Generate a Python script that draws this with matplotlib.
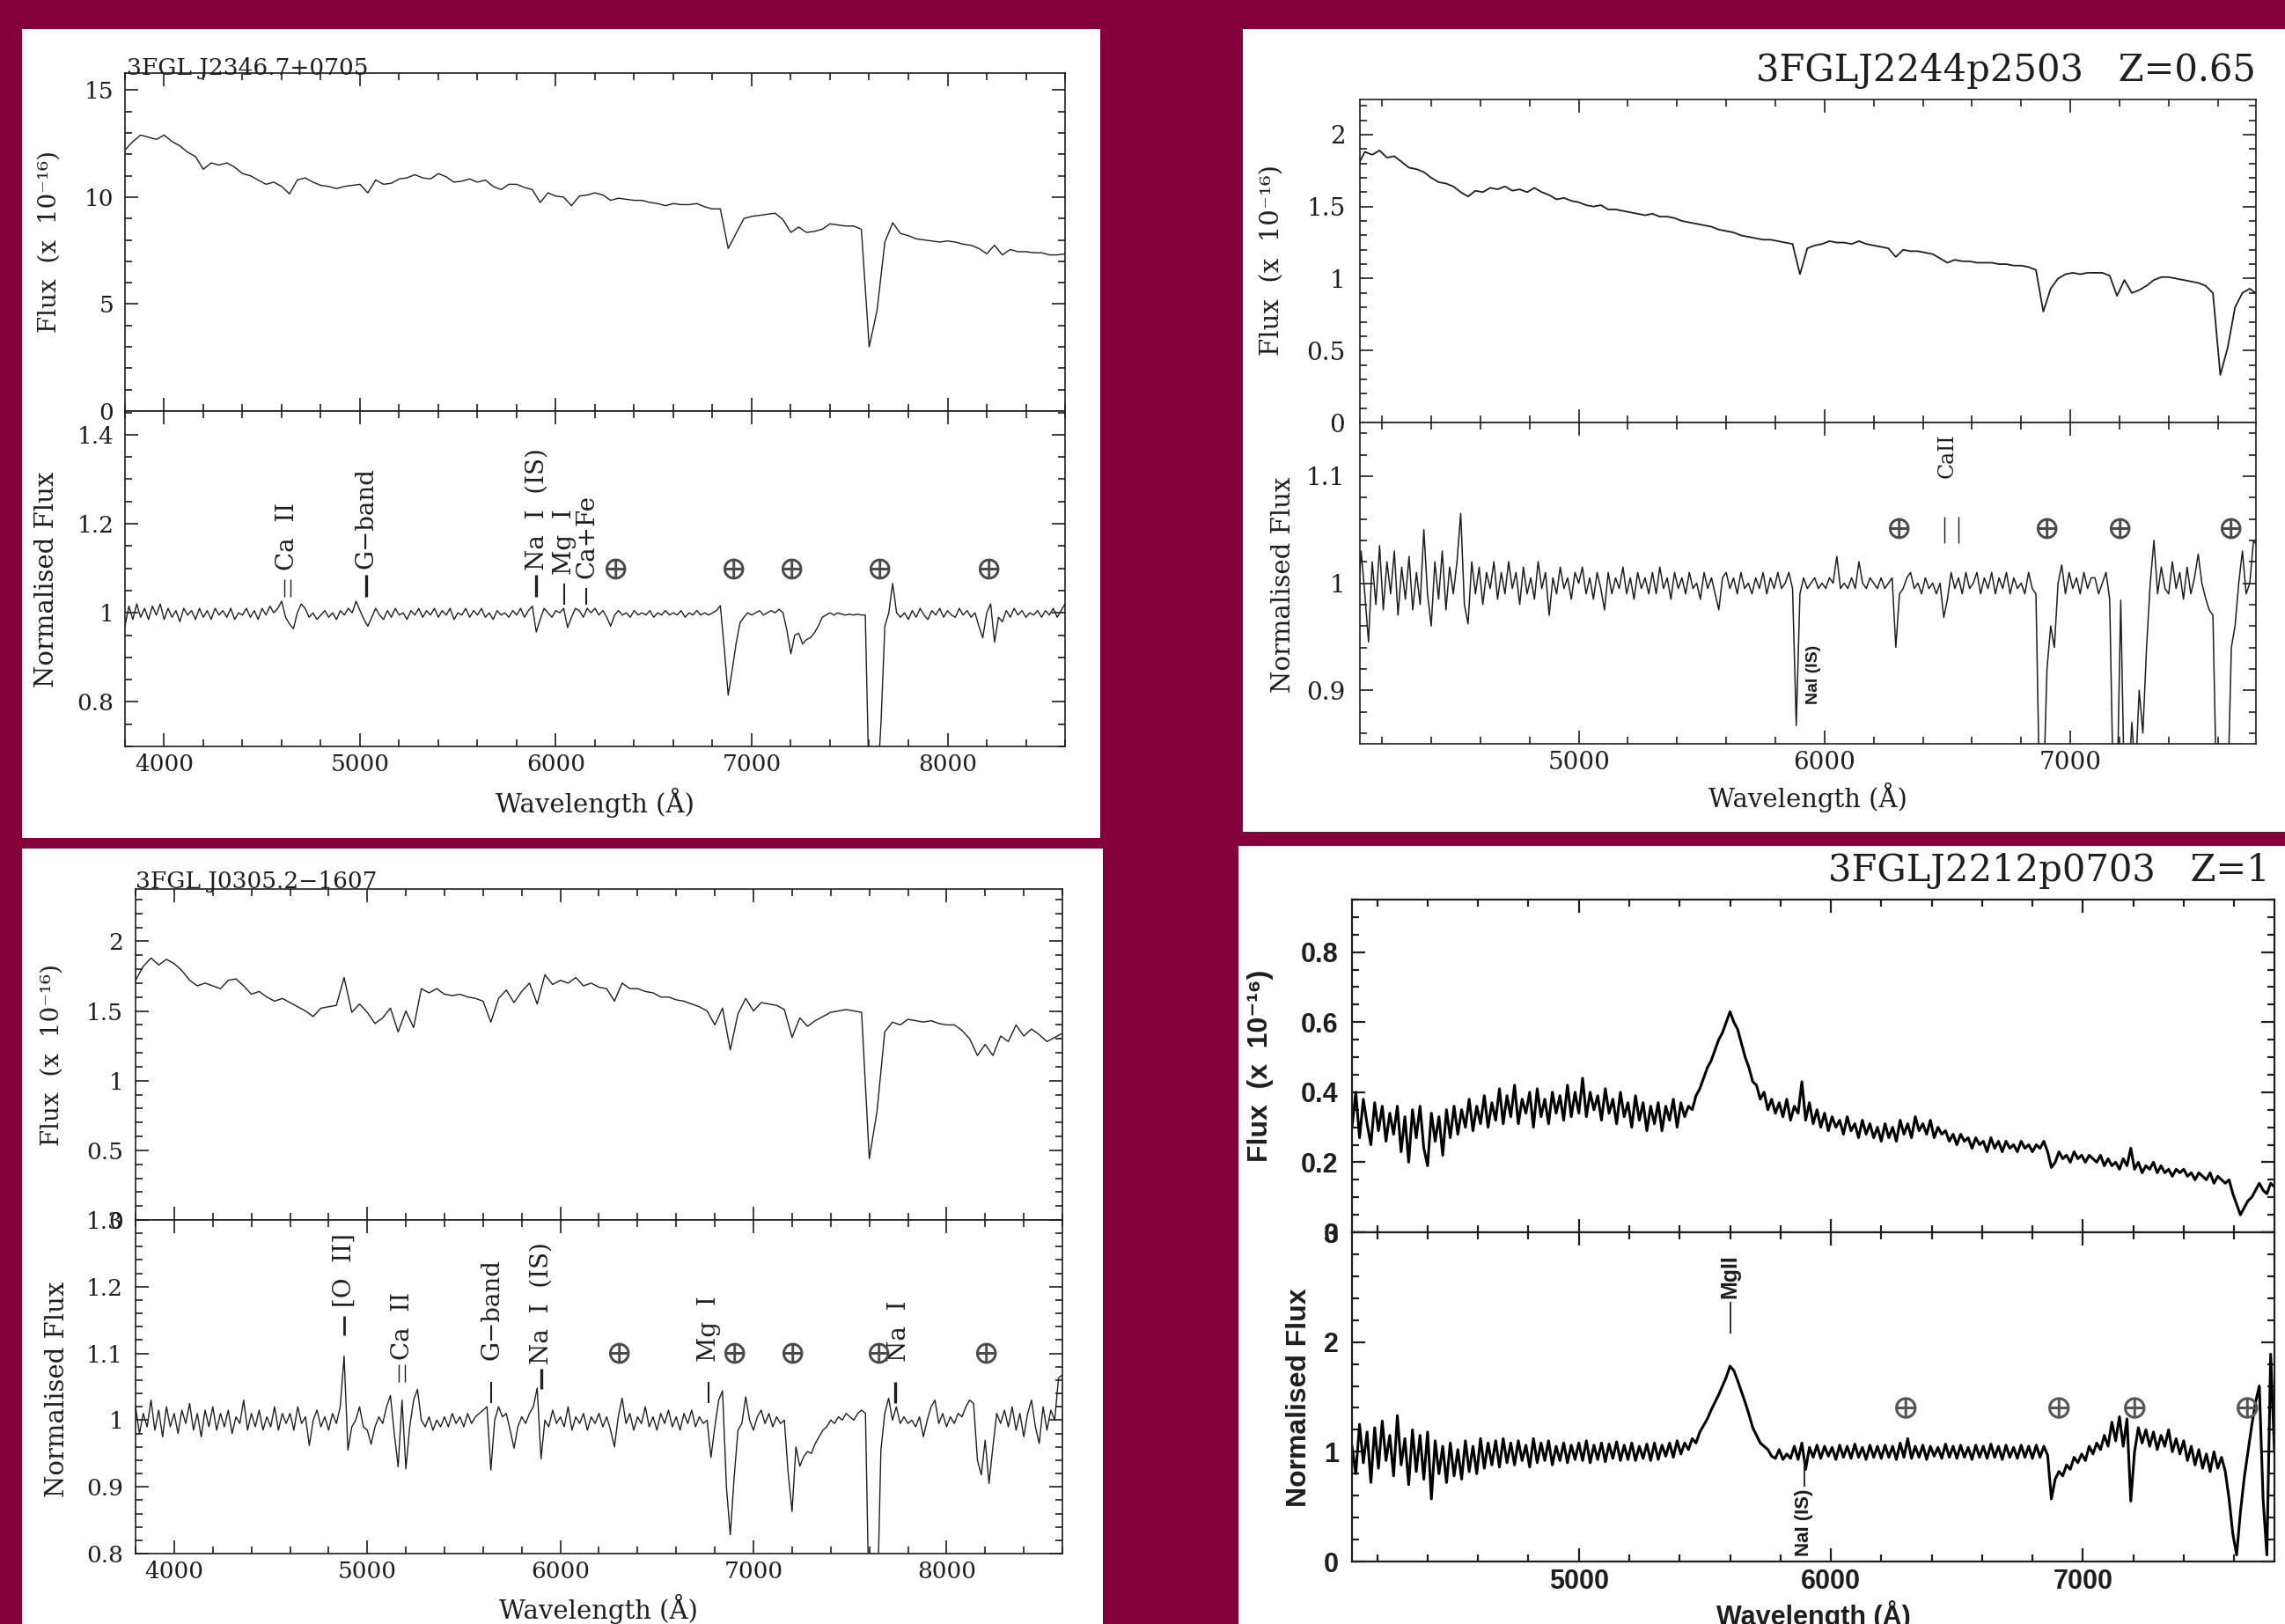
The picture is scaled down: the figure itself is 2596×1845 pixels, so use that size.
import numpy as np
import matplotlib
matplotlib.use("Agg")
import matplotlib.pyplot as plt
from matplotlib.ticker import MultipleLocator
from matplotlib.patches import Rectangle

# wavelength grids (Angstrom) the spectra were read on
wave_blue = np.arange(3800, 8601, 40)       # J2346 / J0305 flux
wave_blue_fine = np.arange(3800, 8601, 20)  # J2346 / J0305 normalised
wave_red = np.arange(4100, 7761, 30)        # J2244p2503 flux
wave_fine = np.arange(4100, 7761, 15)       # noisy red spectra

# 3FGL J2346.7+0705 : flux (x 1e-16) and normalised flux
j2346_flux = [
    12.2, 12.6, 12.9, 12.8, 12.7, 12.9, 12.6, 12.4, 12.1, 11.9,
    11.3, 11.6, 11.5, 11.6, 11.4, 11.1, 11.0, 10.8, 10.6, 10.7,
    10.5, 10.15, 10.8, 10.9, 10.7, 10.55, 10.5, 10.4, 10.5, 10.55,
    10.6, 10.2, 10.8, 10.6, 10.65, 10.85, 10.9, 11.05, 10.9, 10.85,
    11.1, 10.95, 10.7, 10.75, 10.85, 10.7, 10.8, 10.5, 10.35, 10.6,
    10.6, 10.45, 10.35, 9.75, 10.2, 10.05, 10.0, 9.6, 10.05, 10.1,
    10.2, 10.1, 9.85, 9.95, 9.9, 9.85, 9.85, 9.75, 9.7, 9.6,
    9.7, 9.65, 9.65, 9.7, 9.55, 9.45, 9.45, 7.6, 8.3, 9.0,
    9.1, 9.15, 9.2, 9.25, 8.95, 8.35, 8.6, 8.35, 8.4, 8.5,
    8.75, 8.7, 8.65, 8.65, 8.5, 3.0, 4.7, 7.9, 8.8, 8.3,
    8.2, 8.05, 8.0, 7.95, 7.9, 7.95, 7.9, 7.8, 7.75, 7.6,
    7.35, 7.75, 7.3, 7.55, 7.45, 7.45, 7.4, 7.4, 7.3, 7.3,
    7.35]
j2346_norm = [
    0.97, 1.015, 0.985, 1.02, 0.99, 1.01, 0.985, 1.015, 0.995, 1.02,
    0.985, 1.01, 0.99, 1.005, 0.98, 1.01, 0.995, 1.005, 0.985, 1.01,
    0.99, 1.005, 0.985, 1.01, 0.995, 1.005, 0.99, 1.01, 0.985, 1.0,
    0.995, 1.01, 0.99, 1.005, 0.985, 1.01, 0.995, 1.015, 1.0, 1.01,
    1.026, 0.99, 0.975, 0.964, 1.0, 1.02, 1.01, 0.99, 1.0, 0.985,
    0.995, 1.005, 0.99, 1.0, 0.985, 1.005, 0.995, 1.01, 1.0, 1.026,
    1.005, 0.985, 0.97, 0.99, 1.01, 0.995, 0.985, 1.005, 0.99, 1.01,
    0.995, 1.0, 0.985, 1.005, 0.995, 1.01, 0.99, 1.005, 0.995, 1.01,
    0.99, 1.005, 0.995, 1.01, 0.985, 1.0, 0.995, 1.01, 0.99, 1.005,
    0.995, 1.01, 0.99, 1.0, 0.985, 1.005, 0.995, 1.0, 0.99, 1.005,
    0.995, 1.01, 0.99, 1.005, 1.015, 0.957, 0.985, 1.01, 1.0, 0.99,
    1.005, 1.0, 1.01, 0.967, 0.99, 1.01, 1.005, 0.99, 1.01, 1.0,
    1.01, 0.995, 1.005, 0.99, 0.97, 0.995, 1.005, 0.995, 1.0, 0.99,
    1.005, 0.995, 1.0, 0.995, 1.005, 0.99, 1.0, 0.995, 1.005, 0.995,
    1.0, 0.995, 1.005, 0.99, 1.0, 0.995, 1.005, 0.995, 1.0, 0.995,
    1.0, 1.005, 1.016, 0.92, 0.815, 0.87, 0.93, 0.977, 0.99, 1.0,
    0.995, 1.0, 1.005, 0.995, 1.0, 1.005, 1.0, 1.008, 1.0, 0.96,
    0.908, 0.95, 0.954, 0.93, 0.94, 0.944, 0.955, 0.97, 0.99, 0.995,
    1.0, 0.995, 1.0, 0.997, 0.995, 0.997, 0.995, 0.997, 0.995, 0.995,
    0.6, 0.6, 0.6, 0.75, 0.97, 1.0, 1.066, 1.0, 0.99, 1.0,
    0.985, 1.005, 0.99, 1.01, 0.995, 0.985, 1.005, 0.995, 1.01, 0.99,
    1.005, 0.995, 0.99, 1.01, 0.995, 1.005, 0.99, 1.0, 0.97, 0.944,
    1.0, 1.02, 0.934, 0.99, 0.98, 1.005, 0.99, 1.01, 0.995, 1.005,
    0.99, 1.0, 0.995, 1.005, 0.99, 1.005, 0.995, 1.01, 0.99, 1.005,
    1.02]

# 3FGLJ2244p2503 (Z=0.65)
j2244_flux = [
    1.78, 1.88, 1.86, 1.89, 1.84, 1.85, 1.81, 1.77, 1.76, 1.74,
    1.70, 1.67, 1.66, 1.64, 1.60, 1.57, 1.61, 1.60, 1.63, 1.62,
    1.64, 1.61, 1.62, 1.60, 1.63, 1.60, 1.58, 1.55, 1.56, 1.54,
    1.53, 1.51, 1.50, 1.51, 1.48, 1.48, 1.47, 1.46, 1.45, 1.44,
    1.45, 1.43, 1.43, 1.42, 1.40, 1.39, 1.38, 1.37, 1.36, 1.34,
    1.33, 1.32, 1.30, 1.29, 1.28, 1.27, 1.27, 1.26, 1.25, 1.24,
    1.03, 1.21, 1.23, 1.24, 1.26, 1.25, 1.25, 1.24, 1.26, 1.24,
    1.23, 1.22, 1.21, 1.15, 1.20, 1.19, 1.19, 1.18, 1.17, 1.14,
    1.11, 1.13, 1.12, 1.12, 1.11, 1.11, 1.11, 1.10, 1.10, 1.09,
    1.09, 1.08, 1.06, 0.77, 0.93, 1.0, 1.03, 1.04, 1.03, 1.04,
    1.04, 1.04, 1.02, 0.88, 0.99, 0.90, 0.92, 0.95, 0.99, 1.01,
    1.01, 1.0, 0.99, 0.98, 0.97, 0.95, 0.90, 0.33, 0.52, 0.80,
    0.90, 0.93, 0.89]
j2244_norm = [
    0.97, 1.03, 0.99, 0.945, 1.02, 0.98, 1.035, 0.975, 1.02, 0.99,
    1.03, 0.97, 1.015, 0.985, 1.025, 0.975, 1.01, 0.98, 1.05, 0.99,
    0.96, 1.02, 0.985, 1.03, 0.975, 1.015, 0.99, 1.02, 1.065, 0.98,
    0.962, 1.02, 0.99, 1.015, 0.98, 1.01, 0.995, 1.02, 0.985, 1.01,
    0.99, 1.02, 0.995, 1.01, 0.98, 1.015, 0.99, 1.005, 0.985, 1.02,
    0.995, 1.01, 0.97, 1.005, 0.99, 1.015, 0.995, 1.005, 0.985, 1.01,
    1.0, 1.015, 0.99, 1.005, 0.985, 1.01, 0.995, 0.975, 1.01, 0.99,
    1.005, 0.995, 1.015, 0.99, 1.005, 0.985, 1.01, 0.995, 1.005, 0.99,
    1.01, 0.99, 1.015, 0.995, 1.005, 0.985, 1.01, 0.995, 1.005, 0.99,
    1.01, 0.995, 1.0, 0.985, 1.01, 0.995, 1.005, 0.99, 0.975, 1.005,
    1.01, 0.995, 1.005, 0.99, 1.01, 0.995, 1.0, 0.99, 1.005, 0.995,
    1.01, 0.99, 1.005, 0.995, 1.01, 0.995, 1.0, 1.01, 0.995, 0.867,
    0.99, 1.005, 0.995, 1.0, 1.005, 0.995, 1.0, 0.995, 1.005, 1.0,
    1.025, 0.995, 1.0, 0.995, 1.005, 0.995, 1.02, 1.0, 0.995, 1.005,
    1.0, 0.995, 1.005, 0.995, 1.0, 1.005, 0.94, 0.99, 0.995, 1.005,
    1.01, 0.995, 1.0, 0.99, 1.005, 0.995, 1.0, 0.99, 1.0, 0.968,
    0.985, 1.01, 0.995, 1.005, 0.99, 1.01, 0.995, 1.0, 1.01, 0.99,
    1.005, 0.995, 1.01, 0.99, 1.005, 0.995, 1.01, 0.99, 1.005, 0.995,
    1.0, 0.99, 1.01, 0.995, 0.99, 0.80, 0.80, 0.92, 0.96, 0.94,
    1.0, 1.017, 0.99, 1.01, 0.995, 1.005, 0.99, 1.01, 0.995, 1.005,
    1.005, 0.99, 1.0, 1.01, 0.985, 0.80, 0.80, 0.984, 0.80, 0.80,
    0.87, 0.82, 0.90, 0.86, 0.94, 1.0, 1.04, 0.99, 1.015, 0.995,
    0.99, 1.02, 0.995, 1.01, 0.985, 1.015, 0.99, 1.005, 1.027, 1.0,
    0.986, 0.975, 0.97, 0.80, 0.80, 0.80, 0.80, 0.94, 0.96, 1.0,
    1.03, 0.99, 1.0, 1.04, 1.035]

# 3FGL J0305.2-1607
j0305_flux = [
    1.72, 1.82, 1.88, 1.83, 1.87, 1.84, 1.79, 1.72, 1.68, 1.70,
    1.68, 1.66, 1.72, 1.73, 1.68, 1.62, 1.64, 1.60, 1.57, 1.59,
    1.56, 1.53, 1.50, 1.46, 1.52, 1.53, 1.54, 1.74, 1.49, 1.55,
    1.49, 1.41, 1.45, 1.52, 1.35, 1.50, 1.38, 1.66, 1.63, 1.66,
    1.62, 1.61, 1.62, 1.60, 1.59, 1.57, 1.42, 1.59, 1.65, 1.56,
    1.64, 1.70, 1.55, 1.76, 1.69, 1.72, 1.70, 1.74, 1.68, 1.70,
    1.67, 1.66, 1.57, 1.70, 1.66, 1.66, 1.64, 1.63, 1.60, 1.60,
    1.58, 1.57, 1.55, 1.53, 1.50, 1.40, 1.52, 1.22, 1.48, 1.59,
    1.50, 1.56, 1.55, 1.54, 1.51, 1.31, 1.45, 1.39, 1.43, 1.46,
    1.49, 1.50, 1.51, 1.50, 1.49, 0.44, 0.78, 1.35, 1.42, 1.40,
    1.44, 1.43, 1.42, 1.43, 1.41, 1.40, 1.40, 1.36, 1.30, 1.18,
    1.26, 1.18, 1.32, 1.28, 1.40, 1.32, 1.37, 1.33, 1.28, 1.31,
    1.34]
j0305_norm = [
    1.02, 0.98, 1.01, 0.99, 1.03, 0.985, 1.015, 0.975, 1.02, 0.99,
    1.01, 0.98, 1.015, 0.995, 1.025, 0.985, 1.01, 0.975, 1.015, 0.99,
    1.02, 0.985, 1.01, 0.99, 1.015, 0.98, 1.005, 0.995, 1.03, 0.985,
    1.01, 0.99, 1.015, 0.985, 1.005, 0.99, 1.02, 0.985, 1.01, 0.995,
    1.01, 0.985, 1.02, 0.995, 1.005, 0.962, 1.0, 1.015, 0.99, 1.005,
    0.985, 1.01, 0.995, 1.02, 1.096, 0.955, 0.99, 1.0, 1.02, 0.99,
    0.985, 0.964, 0.99, 1.005, 0.995, 1.02, 1.037, 0.98, 0.93, 1.03,
    0.927, 0.99, 1.03, 1.046, 1.0, 0.99, 1.005, 0.985, 1.0, 0.99,
    1.005, 0.99, 1.01, 0.995, 1.005, 0.99, 1.01, 0.995, 1.005, 1.01,
    1.015, 1.02, 0.925, 1.0, 1.02, 1.005, 1.01, 0.985, 0.958, 0.99,
    1.005, 0.995, 1.01, 1.02, 1.048, 0.942, 1.0, 0.99, 1.015, 0.995,
    1.005, 0.99, 1.02, 0.985, 1.005, 0.995, 1.01, 0.985, 1.005, 0.995,
    1.01, 0.99, 1.005, 0.985, 0.96, 1.005, 1.033, 0.995, 1.01, 0.985,
    1.005, 0.995, 1.02, 0.99, 1.005, 0.985, 1.01, 0.995, 1.015, 0.99,
    1.005, 0.985, 1.01, 0.995, 1.015, 0.99, 1.005, 0.995, 1.0, 0.944,
    0.99, 1.03, 1.044, 0.9, 0.828, 0.914, 0.985, 0.995, 1.035, 1.0,
    0.985, 1.005, 1.015, 0.995, 1.01, 0.99, 1.005, 0.995, 1.0, 0.92,
    0.863, 0.96, 0.931, 0.945, 0.953, 0.95, 0.965, 0.975, 0.985, 0.99,
    1.0, 0.995, 1.005, 1.0, 1.01, 1.005, 1.0, 1.01, 1.015, 1.01,
    0.7, 0.7, 0.7, 0.955, 1.01, 1.033, 1.0, 1.02, 0.995, 1.005,
    0.995, 1.0, 0.99, 1.005, 0.975, 1.0, 1.02, 1.03, 0.995, 1.01,
    0.99, 1.005, 0.995, 1.01, 1.005, 1.02, 1.03, 1.025, 0.94, 0.918,
    0.97, 0.905, 0.96, 1.01, 0.995, 1.015, 0.99, 1.02, 0.985, 1.01,
    0.975, 1.01, 1.03, 0.99, 0.965, 1.02, 0.985, 1.015, 1.0, 1.063,
    1.068]

# 3FGLJ2212p0703 (Z=1)
j2212_flux = [
    0.30, 0.40, 0.27, 0.38, 0.31, 0.25, 0.37, 0.29, 0.36, 0.26,
    0.34, 0.28, 0.36, 0.23, 0.33, 0.20, 0.35, 0.27, 0.36, 0.24,
    0.19, 0.34, 0.26, 0.33, 0.22, 0.35, 0.27, 0.36, 0.28, 0.35,
    0.30, 0.38, 0.29, 0.36, 0.31, 0.39, 0.30, 0.37, 0.32, 0.41,
    0.31, 0.39, 0.33, 0.42, 0.31, 0.38, 0.34, 0.40, 0.30, 0.41,
    0.33, 0.38, 0.31, 0.40, 0.34, 0.39, 0.32, 0.42, 0.33, 0.40,
    0.34, 0.44, 0.33, 0.40, 0.35, 0.39, 0.32, 0.41, 0.34, 0.38,
    0.31, 0.40, 0.33, 0.37, 0.30, 0.39, 0.32, 0.37, 0.29, 0.36,
    0.31, 0.37, 0.29, 0.36, 0.32, 0.38, 0.30, 0.37, 0.33, 0.36,
    0.35, 0.39, 0.41, 0.44, 0.47, 0.49, 0.52, 0.55, 0.57, 0.60,
    0.63, 0.60, 0.58, 0.54, 0.50, 0.47, 0.43, 0.42, 0.38, 0.40,
    0.35, 0.38, 0.34, 0.37, 0.33, 0.38, 0.32, 0.36, 0.34, 0.43,
    0.32, 0.37, 0.31, 0.35, 0.30, 0.34, 0.29, 0.33, 0.30, 0.32,
    0.28, 0.33, 0.29, 0.31, 0.27, 0.32, 0.28, 0.31, 0.27, 0.30,
    0.26, 0.31, 0.27, 0.30, 0.26, 0.32, 0.28, 0.31, 0.27, 0.33,
    0.29, 0.31, 0.28, 0.32, 0.27, 0.30, 0.28, 0.29, 0.26, 0.28,
    0.25, 0.28, 0.26, 0.27, 0.24, 0.27, 0.25, 0.26, 0.23, 0.27,
    0.24, 0.26, 0.23, 0.26, 0.24, 0.25, 0.23, 0.26, 0.24, 0.25,
    0.23, 0.25, 0.24, 0.26, 0.23, 0.185, 0.20, 0.23, 0.21, 0.22,
    0.20, 0.23, 0.21, 0.22, 0.20, 0.22, 0.21, 0.20, 0.22, 0.19,
    0.21, 0.19, 0.20, 0.18, 0.21, 0.19, 0.24, 0.18, 0.20, 0.17,
    0.19, 0.18, 0.20, 0.17, 0.19, 0.17, 0.18, 0.16, 0.18, 0.17,
    0.18, 0.16, 0.17, 0.15, 0.17, 0.16, 0.15, 0.17, 0.14, 0.16,
    0.15, 0.14, 0.15, 0.11, 0.08, 0.05, 0.07, 0.09, 0.10, 0.12,
    0.14, 0.12, 0.11, 0.14, 0.13]
j2212_norm = [
    1.05, 0.80, 1.25, 0.90, 1.18, 0.72, 1.22, 0.85, 1.28, 0.92,
    1.15, 0.78, 1.33, 0.88, 1.12, 0.70, 1.20, 0.82, 1.15, 0.75,
    1.18, 0.57, 1.10, 0.80, 1.05, 0.72, 1.08, 0.78, 1.02, 0.75,
    1.10, 0.82, 1.05, 0.80, 1.12, 0.85, 1.08, 0.88, 1.10, 0.86,
    1.12, 0.90, 1.08, 0.88, 1.10, 0.92, 1.06, 0.86, 1.12, 0.90,
    1.08, 0.92, 1.10, 0.88, 1.05, 0.92, 1.08, 0.90, 1.06, 0.93,
    1.08, 0.92, 1.10, 0.90, 1.06, 0.93, 1.08, 0.91, 1.07, 0.94,
    1.09, 0.92, 1.06, 0.93, 1.08, 0.92, 1.05, 0.94, 1.07, 0.92,
    1.08, 0.93, 1.06, 0.96, 1.08, 0.95, 1.10, 0.98, 1.08, 1.02,
    1.12, 1.08, 1.18, 1.24, 1.30, 1.38, 1.45, 1.52, 1.60, 1.68,
    1.78, 1.74, 1.65, 1.55, 1.45, 1.34, 1.22, 1.15, 1.08, 1.05,
    1.02, 0.96, 0.94, 1.02, 0.93, 0.98, 0.94, 1.05, 0.93, 1.08,
    0.84, 1.04, 0.95, 1.06, 0.94, 1.05, 0.96, 1.04, 0.93, 1.06,
    0.95, 1.05, 0.94, 1.07, 0.95, 1.04, 0.93, 1.06, 0.95, 1.05,
    0.94, 1.06, 0.95, 1.05, 0.93, 1.08, 0.95, 1.12, 0.94, 1.05,
    0.95, 1.06, 0.93, 1.05, 0.96, 1.04, 0.94, 1.07, 0.95, 1.05,
    0.94, 1.06, 0.95, 1.04, 0.93, 1.06, 0.95, 1.05, 0.94, 1.07,
    0.95, 1.05, 0.93, 1.06, 0.95, 1.04, 0.94, 1.06, 0.95, 1.05,
    0.94, 1.06, 0.95, 1.05, 0.97, 0.57, 0.75, 0.82, 0.78, 0.88,
    0.84, 0.95, 0.90, 0.98, 0.92, 1.05, 0.98, 1.08, 1.02, 1.15,
    1.05, 1.27, 1.10, 1.32, 1.05, 1.30, 0.55, 1.00, 1.22, 1.08,
    1.20, 1.05, 1.18, 1.02, 1.15, 1.05, 1.20, 1.00, 1.12, 0.98,
    1.10, 0.92, 1.05, 0.88, 1.02, 0.85, 0.98, 0.82, 1.00, 0.85,
    0.95, 0.82, 0.57, 0.25, 0.06, 0.45, 0.76, 1.00, 1.24, 1.45,
    1.60, 0.57, 0.06, 1.89, 1.00]

# telluric bands marked with the earth symbol
j2346_telluric = [6302, 6905, 7203, 7650, 8208]
j2244_telluric = [6300, 6902, 7200, 7650]
j0305_telluric = [6302, 6898, 7200, 7646, 8200]
j2212_telluric = [6299, 6905, 7206, 7653]

W, H = 2596, 1845
INK = "#1e1e1e"
SERIF = ["DejaVu Serif", "DejaVu Sans"]
SANS = ["Liberation Sans", "DejaVu Sans"]

fig = plt.figure(figsize=(W / 100, H / 100), dpi=100)
fig.patch.set_facecolor("#84003a")


def box(l, t, r, b):
    return [l / W, 1 - b / H, (r - l) / W, (b - t) / H]


def ftext(x, y, s, **kw):
    fig.text(x / W, 1 - y / H, s, color=INK, **kw)


def white(l, t, r, b):
    fig.add_artist(Rectangle((l / W, 1 - b / H), (r - l) / W, (b - t) / H,
                             transform=fig.transFigure, facecolor="white",
                             edgecolor="none", zorder=-5))


def style(ax, xlim, ylim, xmajor, yticks, yminor, fam, size, weight,
          padx, pady, show_x, lw=1.2):
    ax.set_xlim(*xlim)
    ax.set_ylim(*ylim)
    ax.set_xticks(xmajor, labels=["%g" % v for v in xmajor],
                  fontfamily=fam, fontsize=size, fontweight=weight, color=INK)
    ax.xaxis.set_minor_locator(MultipleLocator(200))
    ax.set_yticks(yticks, labels=["%g" % v for v in yticks],
                  fontfamily=fam, fontsize=size, fontweight=weight, color=INK)
    ax.yaxis.set_minor_locator(MultipleLocator(yminor))
    ax.tick_params(which="both", direction="in", top=True, right=True,
                   color=INK, width=lw)
    ax.tick_params(which="major", length=11)
    ax.tick_params(which="minor", length=6)
    ax.tick_params(axis="x", pad=padx, labelbottom=show_x)
    ax.tick_params(axis="y", pad=pady)
    for s in ax.spines.values():
        s.set_linewidth(lw)
        s.set_color(INK)


def mark(ax, wl, lo, hi, lw=1.0):
    ax.plot([wl, wl], [lo, hi], color=INK, lw=lw, solid_capstyle="butt")


def vlab(ax, wl, y, s, size=20, va="bottom", fam=SERIF, weight="normal"):
    ax.text(wl, y, s, rotation=90, ha="center", va=va, fontsize=size,
            family=fam, fontweight=weight, color=INK)


def earth(ax, wls, y, size=27, color="#4a4a4a"):
    for wl in wls:
        ax.text(wl, y, "\u2295", ha="center", va="center", fontsize=size,
                family=SERIF, color=color)


# white backing panels
white(25, 33, 1250, 952)
white(1412, 33, 2596, 945)
white(25, 964, 1253, 1845)
white(1407, 961, 2596, 1845)

blue_ticks = [4000, 5000, 6000, 7000, 8000]
red_ticks = [5000, 6000, 7000]

# ---- 3FGL J2346.7+0705 (top left) ----
a1 = fig.add_axes(box(142, 83, 1210, 467))
a2 = fig.add_axes(box(142, 467, 1210, 848))
a1.plot(wave_blue, j2346_flux, color=INK, lw=1.0)
a2.plot(wave_blue_fine, j2346_norm, color=INK, lw=1.0)
style(a1, (3800, 8600), (0, 15.8), blue_ticks, [0, 5, 10, 15], 1,
      SERIF, 19, "normal", 6, 9, False)
style(a2, (3800, 8600), (0.70, 1.453), blue_ticks, [0.8, 1, 1.2, 1.4], 0.05,
      SERIF, 19, "normal", 6, 9, True)
mark(a2, 4615, 1.035, 1.075)
mark(a2, 4645, 1.035, 1.075)
vlab(a2, 4628, 1.095, "Ca  II")
mark(a2, 5030, 1.035, 1.085, lw=2.4)
vlab(a2, 5030, 1.10, "G\u2212band")
mark(a2, 5900, 1.035, 1.085, lw=2.4)
vlab(a2, 5905, 1.095, "Na  I  (IS)")
mark(a2, 6043, 1.018, 1.065, lw=1.5)
vlab(a2, 6045, 1.085, "Mg  I")
mark(a2, 6155, 1.018, 1.055, lw=1.5)
vlab(a2, 6160, 1.077, "Ca+Fe")
earth(a2, j2346_telluric, 1.097)
ftext(144, 85, "3FGL J2346.7+0705", ha="left", va="baseline", fontsize=19,
      family=SERIF)
ftext(56, 275, "Flux  (x  10\u207b\u00b9\u2076)", rotation=90, ha="center",
      va="center", fontsize=20, family=SERIF)
ftext(53, 658, "Normalised Flux", rotation=90, ha="center", va="center",
      fontsize=21, family=SERIF)
ftext(676, 912, "Wavelength (\u00c5)", ha="center", va="center", fontsize=21,
      family=SERIF)

# ---- 3FGLJ2244p2503 (top right) ----
a3 = fig.add_axes(box(1545, 113, 2563, 480))
a4 = fig.add_axes(box(1545, 480, 2563, 845))
a3.plot(wave_red, j2244_flux, color=INK, lw=1.3)
a4.plot(wave_fine, j2244_norm, color=INK, lw=1.1)
style(a3, (4110, 7755), (0, 2.244), red_ticks, [0, 0.5, 1, 1.5, 2], 0.1,
      SERIF, 20, "normal", 6, 12, False)
style(a4, (4110, 7755), (0.85, 1.15), red_ticks, [0.9, 1, 1.1], 0.02,
      SERIF, 20, "normal", 6, 12, True)
vlab(a4, 5955, 0.887, "NaI (IS)", size=14, fam=SANS, weight="bold")
mark(a4, 6489, 1.037, 1.062)
mark(a4, 6544, 1.037, 1.062)
vlab(a4, 6499, 1.098, "CaII", size=17)
earth(a4, j2244_telluric, 1.05)
ftext(2563, 92, "3FGLJ2244p2503   Z=0.65", ha="right", va="baseline",
      fontsize=30, family=SERIF)
ftext(1445, 296, "Flux  (x  10\u207b\u00b9\u2076)", rotation=90, ha="center",
      va="center", fontsize=21, family=SERIF)
ftext(1458, 664, "Normalised Flux", rotation=90, ha="center", va="center",
      fontsize=21, family=SERIF)
ftext(2054, 906, "Wavelength (\u00c5)", ha="center", va="center", fontsize=21,
      family=SERIF)

# ---- 3FGL J0305.2-1607 (bottom left) ----
a5 = fig.add_axes(box(154, 1010, 1207, 1386))
a6 = fig.add_axes(box(154, 1386, 1207, 1765))
a5.plot(wave_blue, j0305_flux, color=INK, lw=1.0)
a6.plot(wave_blue_fine, j0305_norm, color=INK, lw=1.0)
style(a5, (3800, 8600), (0, 2.375), blue_ticks, [0, 0.5, 1, 1.5, 2], 0.1,
      SERIF, 19, "normal", 6, 10, False)
style(a6, (3800, 8600), (0.8, 1.3), blue_ticks, [0.8, 0.9, 1, 1.1, 1.2, 1.3],
      0.02, SERIF, 19, "normal", 6, 10, True)
mark(a6, 4880, 1.127, 1.156, lw=2.0)
vlab(a6, 4880, 1.169, "[O  II]")
mark(a6, 5163, 1.057, 1.083)
mark(a6, 5197, 1.057, 1.083)
vlab(a6, 5185, 1.09, "Ca  II")
mark(a6, 5643, 1.026, 1.057, lw=1.5)
vlab(a6, 5646, 1.09, "G\u2212band")
mark(a6, 5901, 1.047, 1.077, lw=2.4)
vlab(a6, 5901, 1.083, "Na  I  (IS)")
mark(a6, 6769, 1.026, 1.057, lw=1.5)
vlab(a6, 6769, 1.088, "Mg  I")
mark(a6, 7732, 1.026, 1.057, lw=2.4)
vlab(a6, 7754, 1.088, "Na  I")
earth(a6, j0305_telluric, 1.099)
ftext(154, 1009, "3FGL J0305.2\u22121607", ha="left", va="baseline",
      fontsize=19, family=SERIF)
ftext(59, 1198, "Flux  (x  10\u207b\u00b9\u2076)", rotation=90, ha="center",
      va="center", fontsize=20, family=SERIF)
ftext(65, 1578, "Normalised Flux", rotation=90, ha="center", va="center",
      fontsize=21, family=SERIF)
ftext(680, 1828, "Wavelength (\u00c5)", ha="center", va="center", fontsize=21,
      family=SERIF)

# ---- 3FGLJ2212p0703 (bottom right) ----
a7 = fig.add_axes(box(1536, 1022, 2584, 1400))
a8 = fig.add_axes(box(1536, 1400, 2584, 1774))
a7.plot(wave_fine, j2212_flux, color="black", lw=2.2)
a8.plot(wave_fine, j2212_norm, color="black", lw=2.2)
style(a7, (4100, 7760), (0, 0.95), red_ticks, [0, 0.2, 0.4, 0.6, 0.8], 0.05,
      SANS, 22, "bold", 6, 11, False, lw=1.6)
style(a8, (4100, 7760), (0, 3), red_ticks, [0, 1, 2, 3], 0.2,
      SANS, 22, "bold", 6, 11, True, lw=1.6)
mark(a8, 5600, 2.08, 2.37, lw=1.3)
vlab(a8, 5600, 2.40, "MgII", size=18, fam=SANS, weight="bold")
mark(a8, 5895, 0.68, 0.95, lw=1.3)
vlab(a8, 5895, 0.66, "NaI (IS)", size=16, va="top", fam=SANS, weight="bold")
earth(a8, j2212_telluric, 1.38, size=28, color="#555555")
ftext(2579, 1001, "3FGLJ2212p0703   Z=1", ha="right", va="baseline",
      fontsize=30, family=SERIF)
ftext(1432, 1211, "Flux  (x  10\u207b\u00b9\u2076)", rotation=90, ha="center",
      va="center", fontsize=23, family=SANS, fontweight="bold")
ftext(1476, 1588, "Normalised Flux", rotation=90, ha="center", va="center",
      fontsize=23, family=SANS, fontweight="bold")
ftext(2060, 1836, "Wavelength (\u00c5)", ha="center", va="center", fontsize=22,
      family=SANS, fontweight="bold")

fig.savefig("out.png", dpi=100, facecolor=fig.get_facecolor())
